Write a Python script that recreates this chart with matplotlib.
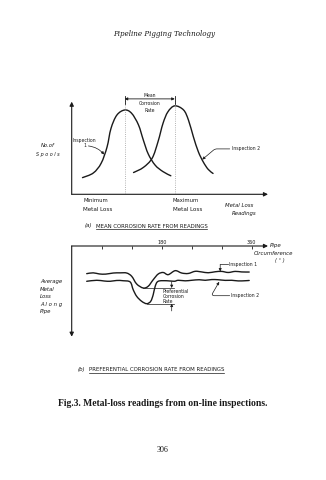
import numpy as np
import matplotlib.pyplot as plt
from matplotlib.path import Path
from matplotlib.patches import PathPatch

# (a) spool counts against metal loss reading, two inspections
loss_insp1 = [5.5, 11, 15, 18, 20, 23, 27, 30.5, 34, 36.5, 39, 42.5, 46.5, 50.5]
spools_insp1 = [18, 23, 33.5, 51, 71, 85.5, 91, 87.5, 75, 58.5, 43.5, 31.5, 24.5, 20]
loss_insp2 = [31.5, 36.5, 41, 44, 46.5, 49, 52.5, 57, 59.5, 62, 64.5, 67, 69.5, 72]
spools_insp2 = [23.5, 29, 39, 57, 76.5, 89, 95.5, 91, 80, 62, 46, 35, 27, 22.5]
mean_insp1 = 27
mean_insp2 = 52.5

# (b) average metal loss round the pipe circumference
circ_insp1 = [30, 43, 55, 68, 83, 97, 110, 120, 130, 143, 153, 163, 173, 183, 193,
              207, 220, 233, 247, 260, 273, 287, 300, 313, 327, 340, 355]
avg_loss_insp1 = [30.5, 29.6, 30.8, 31.0, 29.8, 29.6, 29.8, 33.4, 41.9, 46.3, 44.4,
                  37.2, 30.9, 29.2, 31.6, 27.2, 29.8, 30.3, 27.9, 28.6, 29.5, 28.4,
                  28.0, 29.2, 28.0, 28.6, 28.7]
circ_insp2 = [30, 50, 65, 77, 90, 103, 117, 123, 130, 140, 150, 158, 163, 167, 173,
              190, 205, 213, 227, 240, 255, 267, 280, 293, 307, 320, 333, 347, 355]
avg_loss_insp2 = [38.9, 37.8, 38.6, 38.9, 38.0, 38.3, 39.7, 48.2, 55.5, 61.0, 63.6,
                  61.0, 53.7, 44.4, 38.9, 38.3, 38.9, 37.8, 38.4, 37.8, 37.2, 37.8,
                  37.0, 37.2, 37.9, 37.8, 38.5, 38.3, 38.0]
circ_ticks = [60, 120, 180, 240, 300, 360]
circ_ticklabels = ['', '', '180', '', '', '360']

ink = '#1a1a1a'
W, H = 326, 480

fig = plt.figure(figsize=(W / 100, H / 100), dpi=100)
fig.patch.set_facecolor('white')

# page layer in pixel units for header / captions
page = fig.add_axes([0, 0, 1, 1])
page.set_xlim(0, W)
page.set_ylim(H, 0)
page.axis('off')


def px_axes(left, right, top, bottom):
    return fig.add_axes([left / W, (H - bottom) / H, (right - left) / W, (bottom - top) / H])


def smooth_curve(ax, xs, ys, lw=1.0):
    # Catmull-Rom through the points, drawn as cubic Bezier segments in display space
    pts = ax.transData.transform(np.column_stack([xs, ys]))
    verts = [pts[0]]
    codes = [Path.MOVETO]
    n = len(pts)
    for i in range(n - 1):
        p0 = pts[max(i - 1, 0)]
        p1 = pts[i]
        p2 = pts[i + 1]
        p3 = pts[min(i + 2, n - 1)]
        verts += [p1 + (p2 - p0) / 6, p2 - (p3 - p1) / 6, p2]
        codes += [Path.CURVE4] * 3
    verts = ax.transData.inverted().transform(np.array(verts))
    ax.add_patch(PathPatch(Path(verts, codes), fill=False, ec=ink, lw=lw,
                           joinstyle='round', capstyle='round'))


arrow = dict(arrowstyle='-|>', lw=0.8, color=ink, mutation_scale=6, shrinkA=0, shrinkB=0)
small = dict(arrowstyle='-|>', lw=0.5, color=ink, mutation_scale=4, shrinkA=0, shrinkB=0)
sans = 'DejaVu Sans'

# ---------------- (a) ----------------
ax1 = px_axes(71.7, 268, 92.4, 194.3)
ax1.set_xlim(0, 100)
ax1.set_ylim(0, 110)
ax1.axis('off')

ax1.annotate('', xy=(100, 0), xytext=(0, 0), arrowprops=arrow, annotation_clip=False)
ax1.annotate('', xy=(0, 100), xytext=(0, 0), arrowprops=arrow, annotation_clip=False)

smooth_curve(ax1, loss_insp1, spools_insp1)
smooth_curve(ax1, loss_insp2, spools_insp2)

for m in (mean_insp1, mean_insp2):
    ax1.plot([m, m], [0, 103], color='#9a9a9a', lw=0.6, ls=':')
    ax1.plot([m, m], [98, 106], color=ink, lw=0.6)
ax1.annotate('', xy=(mean_insp2, 103), xytext=(mean_insp1, 103),
             arrowprops=dict(arrowstyle='<|-|>', lw=0.6, color=ink, mutation_scale=4,
                             shrinkA=0, shrinkB=0))
mid = (mean_insp1 + mean_insp2) / 2
for yy, s in zip([106.5, 98, 91], ['Mean', 'Corrosion', 'Rate']):
    ax1.text(mid, yy, s, fontsize=3.3, ha='center', va='center', family=sans, color=ink)

ax1.text(6.3, 58.6, 'Inspection', fontsize=3.3, ha='center', va='center', family=sans,
         color=ink, clip_on=False)
ax1.text(6.8, 52.2, '1', fontsize=3.3, ha='center', va='center', family=sans, color=ink)
ax1.annotate('', xy=(16.5, 43), xytext=(8.5, 52.2),
             arrowprops=dict(small, connectionstyle='arc3,rad=-0.2'))

ax1.text(81.5, 49, 'Inspection 2', fontsize=3.3, ha='left', va='center', family=sans,
         color=ink, clip_on=False)
ax1.annotate('', xy=(66.5, 37.5), xytext=(80.5, 49),
             arrowprops=dict(small, connectionstyle='angle,angleA=0,angleB=40,rad=2'),
             annotation_clip=False)

ax1.text(-12.1, 52.2, 'No.of', fontsize=3.8, ha='center', va='center', family=sans,
         style='italic', color=ink, clip_on=False)
ax1.text(-12.1, 43, 'S p o o l s', fontsize=3.5, ha='center', va='center', family=sans,
         style='italic', color=ink, clip_on=False)

for xx, s in [(5.8, 'Minimum'), (51.5, 'Maximum')]:
    ax1.text(xx, -6.9, s, fontsize=3.8, ha='left', va='center', family=sans,
             color=ink, clip_on=False)
    ax1.text(xx, -15.9, 'Metal Loss', fontsize=4.1, ha='left', va='center', family=sans,
             color=ink, clip_on=False)
ax1.text(85.3, -12.6, 'Metal Loss', fontsize=3.9, ha='center', va='center', family=sans,
         style='italic', color=ink, clip_on=False)
ax1.text(88, -20.2, 'Readings', fontsize=3.9, ha='center', va='center', family=sans,
         style='italic', color=ink, clip_on=False)

# ---------------- (b) ----------------
ax2 = px_axes(71.7, 268, 246, 336.7)
ax2.set_xlim(0, 392.6)
ax2.set_ylim(100, 0)
for s in ax2.spines.values():
    s.set_visible(False)
ax2.yaxis.set_visible(False)
ax2.xaxis.tick_top()
ax2.set_xticks(circ_ticks)
ax2.set_xticklabels(circ_ticklabels)
ax2.tick_params(axis='x', direction='in', length=2, width=0.6, colors=ink,
                labelsize=3.5, pad=1)

ax2.annotate('', xy=(392.6, 0), xytext=(0, 0), arrowprops=arrow, annotation_clip=False)
ax2.annotate('', xy=(0, 100), xytext=(0, 0), arrowprops=arrow, annotation_clip=False)

smooth_curve(ax2, circ_insp1, avg_loss_insp1)
smooth_curve(ax2, circ_insp2, avg_loss_insp2)

# preferential corrosion bracket between the two minima
i1 = int(np.argmax(avg_loss_insp1))
i2 = int(np.argmax(avg_loss_insp2))
bx = 200
ax2.plot([circ_insp1[i1], bx + 5], [avg_loss_insp1[i1]] * 2, color=ink, lw=0.5)
ax2.plot([circ_insp2[i2], bx + 5], [avg_loss_insp2[i2]] * 2, color=ink, lw=0.5)
ax2.annotate('', xy=(bx, avg_loss_insp1[i1]), xytext=(bx, avg_loss_insp1[i1] - 7),
             arrowprops=small)
ax2.annotate('', xy=(bx, avg_loss_insp2[i2]), xytext=(bx, avg_loss_insp2[i2] + 8),
             arrowprops=small)
for yy, s in zip([49.8, 55.7, 61.2], ['Preferential', 'Corrosion', 'Rate']):
    ax2.text(182, yy, s, fontsize=3.3, ha='left', va='center', family=sans, color=ink)

ax2.text(315, 20.2, 'Inspection 1', fontsize=3.3, ha='left', va='center', family=sans,
         color=ink, clip_on=False)
ax2.plot([297, 313], [20.2, 20.2], color=ink, lw=0.5)
ax2.annotate('', xy=(297, 28), xytext=(297, 20.2), arrowprops=small)

ax2.text(318.6, 54.8, 'Inspection 2', fontsize=3.3, ha='left', va='center', family=sans,
         color=ink, clip_on=False)
ax2.annotate('', xy=(295, 39.5), xytext=(316, 54.8),
             arrowprops=dict(small, connectionstyle='angle,angleA=0,angleB=60,rad=3'),
             annotation_clip=False)

ax2.text(396, 0, 'Pipe', fontsize=4, ha='left', va='center', family=sans,
         style='italic', color=ink, clip_on=False)
ax2.text(403, 8.8, 'Circumference', fontsize=3.9, ha='center', va='center', family=sans,
         style='italic', color=ink, clip_on=False)
ax2.text(417, 16.5, '( ° )', fontsize=3.6, ha='center', va='center', family=sans,
         style='italic', color=ink, clip_on=False)

for yy, s in zip([281.7, 289.2, 296.7, 304.2, 311.7],
                 ['Average', 'Metal', 'Loss', 'A l o n g', 'Pipe']):
    page.text(40, yy, s, fontsize=3.9, ha='left', va='center', family=sans,
              style='italic', color=ink)

# ---------------- page text ----------------
page.text(164, 33.5, 'Pipeline Pigging Technology', fontsize=5.1, ha='center',
          va='center', family='DejaVu Serif', style='italic', color=ink)


def caption(x, y, tag, body):
    t1 = page.text(x, y, tag, fontsize=3.9, ha='left', va='center', family=sans,
                   style='italic', color=ink)
    fig.canvas.draw()
    r = fig.canvas.get_renderer()
    inv = page.transData.inverted()
    bb = t1.get_window_extent(r).transformed(inv)
    t2 = page.text(bb.x1 + 3, y, body, fontsize=3.9, ha='left', va='center',
                   family=sans, color=ink)
    bb2 = t2.get_window_extent(r).transformed(inv)
    page.plot([bb2.x0, bb2.x1], [y + 3.3, y + 3.3], color=ink, lw=0.5)


caption(85, 226, '(a)', 'MEAN CORROSION RATE FROM READINGS')
caption(78, 369.3, '(b)', 'PREFERENTIAL CORROSION RATE FROM READINGS')

page.text(163, 403.5, 'Fig.3. Metal-loss readings from on-line inspections.',
          fontsize=6.9, ha='center', va='center', family='Liberation Serif',
          weight='bold', color=ink)
page.text(163, 449.5, '306', fontsize=5.8, ha='center', va='center',
          family='Liberation Serif', color=ink)

fig.savefig('out.png', dpi=100, facecolor='white')
